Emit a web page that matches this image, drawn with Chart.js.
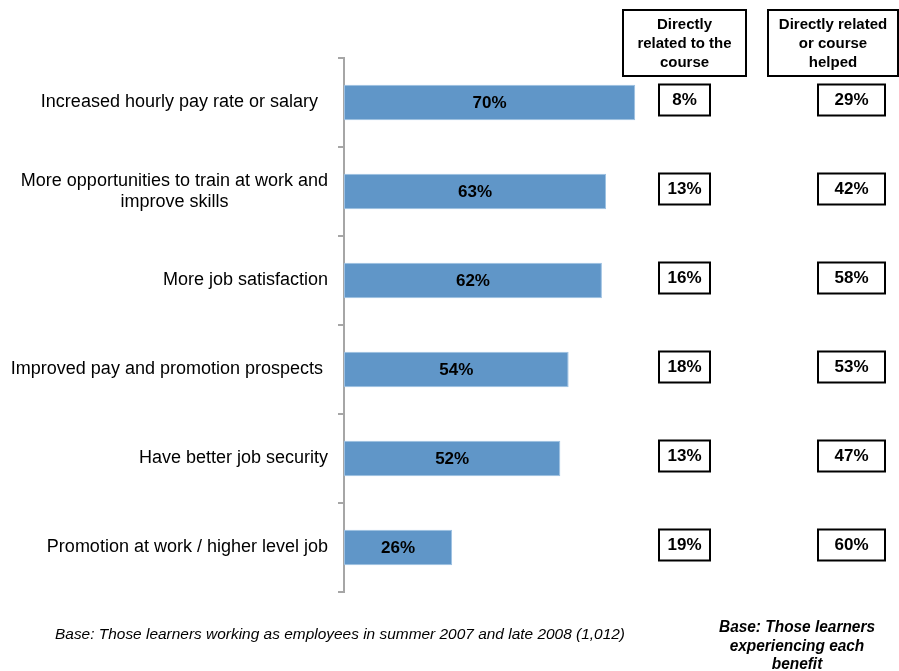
<!DOCTYPE html>
<html>
<head>
<meta charset="utf-8">
<title>Benefits of learning at work</title>
<script src="https://cdn.jsdelivr.net/npm/chart.js@4.4.1/dist/chart.umd.min.js"></script>
<style>
    html, body { margin: 0; padding: 0; background: #ffffff; }
    #wrap { position: relative; width: 899px; height: 671px; }
</style>
</head>
<body>
<div id="wrap"><canvas id="benefits-chart" width="899" height="671"></canvas></div>
<script>
// Benefit categories (multi-line labels are centred on each other)
const categories = [
    ['Increased hourly pay rate or salary  '],
    ['More opportunities to train at work and', 'improve skills'],
    ['More job satisfaction'],
    ['Improved pay and promotion prospects '],
    ['Have better job security'],
    ['Promotion at work / higher level job']
];

// % of learners experiencing each benefit
const allLearners = [70, 63, 62, 54, 52, 26];

// % saying the benefit was directly related to the course
const directlyRelated = [8, 13, 16, 18, 13, 19];

// % saying it was directly related or the course helped
const relatedOrHelped = [29, 42, 58, 53, 47, 60];

const columnHeaders = [
    ['Directly', 'related to the', 'course'],
    ['Directly related', 'or course', 'helped']
];

const baseNoteLeft = 'Base: Those learners working as employees in summer 2007 and late 2008 (1,012)';
const baseNoteRight = ['Base: Those learners', 'experiencing each', 'benefit'];

const FONT = '"Liberation Sans", Arial, sans-serif';

function drawBox(ctx, x, y, w, h) {
    ctx.save();
    ctx.strokeStyle = '#000000';
    ctx.lineWidth = 2;
    ctx.strokeRect(x, y, w, h);
    ctx.restore();
}

// squeeze text horizontally so it reads like a narrow face
function fillNarrow(ctx, text, x, y, squeeze) {
    ctx.save();
    ctx.translate(x, y);
    ctx.scale(squeeze, 1);
    ctx.fillText(text, 0, 0);
    ctx.restore();
}

// Category labels, bar values, side columns and base notes
const annotations = {
    id: 'annotations',
    afterDatasetsDraw(chart) {
        const ctx = chart.ctx;
        const yScale = chart.scales.y;
        const meta = chart.getDatasetMeta(0);

        // category labels left of the axis
        ctx.save();
        ctx.fillStyle = '#000000';
        ctx.font = '18px ' + FONT;
        ctx.textBaseline = 'middle';
        const labelRight = 328;
        categories.forEach((lines, i) => {
            const cy = yScale.getPixelForValue(i);
            const widest = Math.max(...lines.map(l => ctx.measureText(l).width));
            const cx = labelRight - widest / 2;
            const lh = 21;
            ctx.textAlign = 'center';
            lines.forEach((line, j) => {
                const w = ctx.measureText(line).width;
                const trimmed = line.trimEnd();
                const shift = (w - ctx.measureText(trimmed).width) / 2;
                ctx.fillText(trimmed, cx - shift, cy + (j - (lines.length - 1) / 2) * lh);
            });
        });
        ctx.restore();

        // values inside the bars
        ctx.save();
        ctx.fillStyle = '#000000';
        ctx.font = 'bold 17px ' + FONT;
        ctx.textAlign = 'center';
        ctx.textBaseline = 'middle';
        meta.data.forEach((bar, i) => {
            ctx.fillText(allLearners[i] + '%', (bar.x + bar.base) / 2, bar.y + 1);
        });
        ctx.restore();

        // side columns
        const cols = [
            { values: directlyRelated, boxX: 659, boxW: 51, head: { x: 623, w: 123 } },
            { values: relatedOrHelped, boxX: 818, boxW: 67, head: { x: 768, w: 130 } }
        ];
        cols.forEach((col, c) => {
            drawBox(ctx, col.head.x, 10, col.head.w, 66);
            ctx.save();
            ctx.fillStyle = '#000000';
            ctx.font = 'bold 15px ' + FONT;
            ctx.textAlign = 'center';
            ctx.textBaseline = 'middle';
            columnHeaders[c].forEach((line, j) => {
                ctx.fillText(line, col.head.x + col.head.w / 2, 25 + j * 19);
            });
            ctx.restore();

            col.values.forEach((v, i) => {
                const cy = yScale.getPixelForValue(i) - 3;
                drawBox(ctx, col.boxX, cy - 15, col.boxW, 31);
                ctx.save();
                ctx.fillStyle = '#000000';
                ctx.font = 'bold 17px ' + FONT;
                ctx.textAlign = 'center';
                ctx.textBaseline = 'middle';
                ctx.fillText(v + '%', col.boxX + col.boxW / 2, cy + 1);
                ctx.restore();
            });
        });

        // base notes
        ctx.save();
        ctx.fillStyle = '#000000';
        ctx.textBaseline = 'middle';
        ctx.font = 'italic 15px ' + FONT;
        ctx.textAlign = 'left';
        const leftW = ctx.measureText(baseNoteLeft).width;
        fillNarrow(ctx, baseNoteLeft, 55, 635, 570 / leftW);
        ctx.font = 'bold italic 16px ' + FONT;
        ctx.textAlign = 'center';
        const rightW = ctx.measureText(baseNoteRight[0]).width;
        baseNoteRight.forEach((line, j) => {
            fillNarrow(ctx, line, 797, 628 + j * 18.5, 156 / rightW);
        });
        ctx.restore();
    }
};

const ctx = document.getElementById('benefits-chart').getContext('2d');
new Chart(ctx, {
    type: 'bar',
    data: {
        labels: categories.map(l => l.join(' ')),
        datasets: [{
            label: 'All learners',
            data: allLearners,
            backgroundColor: '#6096c8',
            borderColor: '#9cc0e2',
            borderWidth: 1,
            borderSkipped: false,
            categoryPercentage: 0.8,
            barPercentage: 0.5
        }]
    },
    options: {
        responsive: false,
        animation: false,
        indexAxis: 'y',
        layout: {
            padding: { left: 0, top: 58, right: 139, bottom: 79 }
        },
        plugins: {
            legend: { display: false },
            tooltip: { enabled: false }
        },
        scales: {
            x: {
                display: false,
                min: 0,
                max: 100
            },
            y: {
                grid: {
                    drawOnChartArea: false,
                    color: '#a6a6a6',
                    lineWidth: 2,
                    tickLength: 6
                },
                border: { color: '#a6a6a6', width: 2 },
                ticks: {
                    color: 'transparent',
                    callback: () => ''
                },
                afterFit(scale) {
                    scale.width = 344;
                }
            }
        }
    },
    plugins: [annotations]
});
</script>
</body>
</html>
